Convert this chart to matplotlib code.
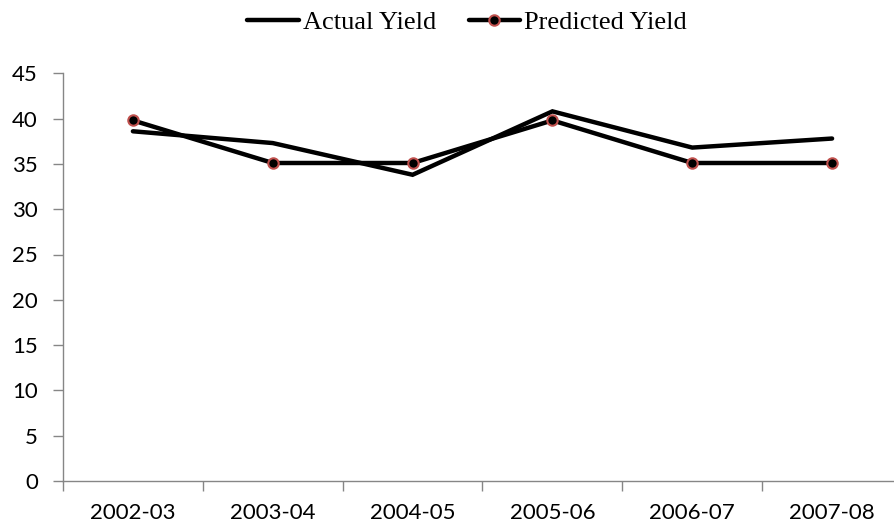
import matplotlib.pyplot as plt
import numpy as np

seasons = ["2002-03", "2003-04", "2004-05", "2005-06", "2006-07", "2007-08"]
actual_yield = [38.6, 37.3, 33.8, 40.8, 36.8, 37.8]
predicted_yield = [39.8, 35.1, 35.1, 39.8, 35.1, 35.1]

AXIS_GREY = "#868686"

fig = plt.figure(figsize=(8.95, 5.30), dpi=100)
fig.patch.set_facecolor("white")

# plot area runs slightly past the right edge of the canvas
ax = fig.add_axes([63 / 895, 49 / 530, 839 / 895, 407.7 / 530])

x = np.arange(len(seasons))
ax.plot(x, actual_yield, color="black", lw=3.2, solid_capstyle="round",
        solid_joinstyle="miter", label="Actual Yield")
ax.plot(x, predicted_yield, color="black", lw=3.2, solid_capstyle="round",
        solid_joinstyle="miter", marker="o", markersize=7.5,
        markerfacecolor="black", markeredgecolor="#c0504d",
        markeredgewidth=1.5, label="Predicted Yield")

ax.set_xlim(-0.5, len(seasons) - 0.5)
ax.set_ylim(0, 45)
ax.set_yticks(np.arange(0, 46, 5))
ax.set_xticks(x)
ax.set_xticklabels(seasons)
ax.set_xticks(np.arange(-0.5, len(seasons), 1.0), minor=True)

for side in ("top", "right"):
    ax.spines[side].set_visible(False)
for side in ("left", "bottom"):
    ax.spines[side].set_color(AXIS_GREY)
    ax.spines[side].set_linewidth(1.0)

ax.tick_params(axis="x", which="major", length=0, pad=16,
               labelsize=16, labelcolor="black")
ax.tick_params(axis="x", which="minor", length=7, width=1.0,
               color=AXIS_GREY, direction="out")
ax.tick_params(axis="y", length=7, width=1.0, color=AXIS_GREY,
               direction="out", pad=11, labelsize=16, labelcolor="black")
for lbl in ax.get_xticklabels() + ax.get_yticklabels():
    lbl.set_family(["Lato", "DejaVu Sans"])

handles, labels = ax.get_legend_handles_labels()
fig.legend(handles, labels, loc="center", bbox_to_anchor=(467 / 895, 1 - 22 / 530),
           ncol=2, frameon=False, handlelength=1.95, handletextpad=0.15,
           columnspacing=1.25, prop={"family": "Liberation Serif", "size": 19})

fig.savefig("out.png", dpi=100)
